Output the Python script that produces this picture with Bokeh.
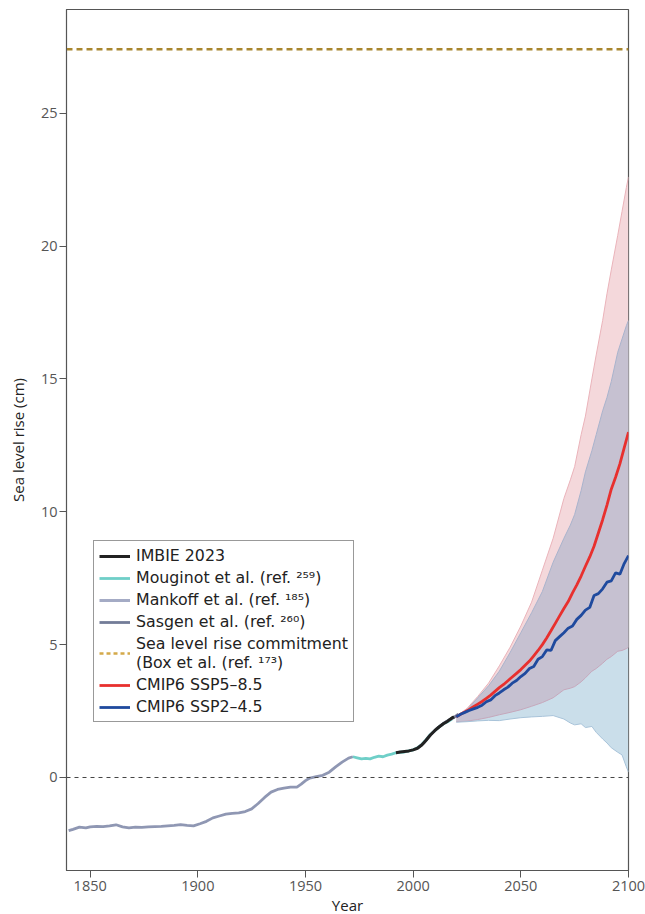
import numpy as np
from bokeh.plotting import figure
from bokeh.models import Legend, LegendItem, Range1d, Span, FixedTicker
from bokeh.embed import file_html
from bokeh.resources import INLINE

# ---------------- data ----------------
mankoff_year = [1840, 1842, 1845, 1848, 1850, 1853, 1856, 1859, 1862, 1865, 1868, 1871, 1874,
                1877, 1880, 1883, 1886, 1889, 1892, 1895, 1898, 1901, 1904, 1907, 1910, 1913,
                1916, 1919, 1922, 1925, 1928, 1931, 1934, 1937, 1940, 1943, 1946, 1948, 1950,
                1952, 1955, 1958, 1961, 1964, 1967, 1970, 1972]
mankoff_slr = [-2.00, -1.95, -1.87, -1.90, -1.86, -1.84, -1.85, -1.82, -1.78, -1.86, -1.90, -1.87,
               -1.88, -1.86, -1.85, -1.84, -1.82, -1.80, -1.77, -1.80, -1.82, -1.74, -1.65, -1.52,
               -1.45, -1.38, -1.35, -1.33, -1.28, -1.18, -0.98, -0.75, -0.55, -0.45, -0.40, -0.36,
               -0.36, -0.25, -0.12, -0.02, 0.03, 0.08, 0.20, 0.40, 0.58, 0.73, 0.78]

mouginot_year = [1972, 1974, 1976, 1978, 1980, 1982, 1984, 1986, 1988, 1990, 1992, 1994, 1996,
                 1998, 2000, 2002, 2004, 2006, 2008, 2010, 2012, 2014, 2016, 2018]
mouginot_slr = [0.78, 0.74, 0.70, 0.72, 0.70, 0.76, 0.80, 0.78, 0.84, 0.88, 0.93, 0.95, 0.96,
                1.00, 1.04, 1.12, 1.24, 1.42, 1.62, 1.76, 1.90, 2.02, 2.10, 2.20]

sasgen_year = [2002, 2005, 2008, 2011, 2014, 2017, 2019, 2021]
sasgen_slr = [1.10, 1.30, 1.60, 1.84, 2.03, 2.18, 2.26, 2.38]

imbie_year = [1992, 1994, 1996, 1998, 2000, 2002, 2004, 2006, 2008, 2010, 2012, 2014, 2016, 2018, 2019]
imbie_slr = [0.93, 0.96, 0.98, 1.00, 1.04, 1.10, 1.22, 1.40, 1.60, 1.76, 1.90, 2.02, 2.12, 2.24, 2.28]

commitment = 27.4

proj_year = [2020, 2022, 2024, 2026, 2028, 2030, 2032, 2034, 2036, 2038, 2040, 2042, 2044, 2046,
             2048, 2050, 2052, 2054, 2056, 2058, 2060, 2062, 2064, 2066, 2068, 2070, 2072, 2074,
             2076, 2078, 2080, 2082, 2084, 2086, 2088, 2090, 2092, 2094, 2096, 2098, 2100]
ssp585 = [2.28, 2.38, 2.47, 2.56, 2.66, 2.76, 2.86, 2.98, 3.10, 3.24, 3.38, 3.50, 3.64, 3.78,
          3.92, 4.06, 4.22, 4.38, 4.58, 4.78, 5.00, 5.25, 5.52, 5.80, 6.08, 6.36, 6.62, 6.95,
          7.25, 7.58, 7.95, 8.30, 8.70, 9.20, 9.70, 10.25, 10.85, 11.30, 11.80, 12.40, 13.00]
ssp245 = [2.28, 2.38, 2.45, 2.52, 2.58, 2.64, 2.72, 2.85, 2.92, 3.08, 3.18, 3.30, 3.40, 3.55,
          3.65, 3.80, 3.92, 4.10, 4.18, 4.45, 4.55, 4.80, 4.78, 5.15, 5.30, 5.45, 5.62, 5.70,
          5.95, 6.10, 6.30, 6.40, 6.85, 6.92, 7.10, 7.35, 7.40, 7.70, 7.65, 8.05, 8.35]

band_year = [2020, 2025, 2030, 2035, 2040, 2045, 2050, 2055, 2060, 2065, 2070, 2073, 2075, 2078,
             2080, 2083, 2085, 2088, 2090, 2092, 2095, 2097, 2099, 2100]
ssp585_hi = [2.30, 2.60, 3.05, 3.55, 4.20, 4.90, 5.70, 6.60, 7.80, 9.00, 10.50, 11.20, 11.70, 12.90,
             13.60, 15.00, 15.90, 17.20, 18.20, 19.10, 20.40, 21.30, 22.20, 22.60]
ssp585_lo = [2.10, 2.12, 2.18, 2.26, 2.36, 2.45, 2.55, 2.68, 2.82, 3.00, 3.30, 3.36, 3.42, 3.60,
             3.75, 4.00, 4.10, 4.30, 4.45, 4.55, 4.75, 4.78, 4.85, 4.90]
ssp245_hi = [2.25, 2.55, 3.00, 3.45, 4.00, 4.70, 5.45, 6.20, 7.00, 8.10, 9.00, 9.50, 9.90, 10.80,
             11.50, 12.30, 12.90, 13.80, 14.30, 14.90, 16.00, 16.50, 17.00, 17.20]
ssp245_lo = [2.08, 2.10, 2.13, 2.15, 2.14, 2.20, 2.25, 2.28, 2.30, 2.33, 2.20, 2.05, 1.98, 2.02,
             1.88, 1.92, 1.70, 1.45, 1.30, 1.12, 0.95, 0.85, 0.40, 0.20]

x_ticks = [1850, 1900, 1950, 2000, 2050, 2100]
y_ticks = [0, 5, 10, 15, 20, 25]

# ---------------- figure ----------------
FONT = "Open Sans"
LFONT = "DejaVu Sans"
p = figure(width=645, height=910, frame_width=562, frame_height=861,
           output_backend="svg", toolbar_location=None,
           x_range=Range1d(1839, 2100), y_range=Range1d(-3.5, 28.9),
           min_border_left=66, min_border_right=17, min_border_top=9, min_border_bottom=40)
p.grid.visible = False
p.outline_line_color = "#555555"
p.outline_line_width = 1.2
p.background_fill_color = "white"
p.border_fill_color = "white"

for ax in (p.xaxis[0], p.yaxis[0]):
    ax.axis_line_color = "#555555"
    ax.major_tick_line_color = "#555555"
    ax.major_tick_out = 7
    ax.major_tick_in = 0
    ax.minor_tick_out = 0
    ax.minor_tick_in = 0
    ax.major_label_text_font = FONT
    ax.major_label_text_font_size = "14.5px"
    ax.major_label_text_color = "#555555"
    ax.axis_label_text_font = FONT
    ax.axis_label_text_font_size = "15px"
    ax.axis_label_text_font_style = "normal"
    ax.axis_label_text_color = "#222222"
p.xaxis.ticker = FixedTicker(ticks=x_ticks)
p.yaxis.ticker = FixedTicker(ticks=y_ticks)
p.xaxis.axis_label = "Year"
p.yaxis.axis_label = "Sea level rise (cm)"
p.xaxis.major_label_standoff = 3
p.yaxis.major_label_standoff = 2
p.xaxis.axis_label_standoff = 1
p.yaxis.axis_label_standoff = 10

# zero line
p.add_layout(Span(location=0, dimension="width", line_color="#444444",
                  line_width=1, line_dash="4 4"))

# ---------------- bands ----------------
by = np.array(band_year, dtype=float)
p.varea(x=by, y1=np.array(ssp245_lo), y2=np.array(ssp245_hi), fill_color="#cadeea", fill_alpha=1)
p.varea(x=by, y1=np.array(ssp585_lo), y2=np.array(ssp585_hi), fill_color="#f4d8db", fill_alpha=1)
ov_lo = np.maximum(ssp585_lo, ssp245_lo)
ov_hi = np.minimum(ssp585_hi, ssp245_hi)
p.varea(x=by, y1=ov_lo, y2=ov_hi, fill_color="#c6c1d1", fill_alpha=1)
p.line(by, ssp585_hi, line_color="#eab3ba", line_width=1)
p.line(by, ssp245_hi, line_color="#a9b3cc", line_width=1)
p.line(by, ssp585_lo, line_color="#c4a8bc", line_width=1)
p.line(by, ssp245_lo, line_color="#a8c3d9", line_width=1)

# ---------------- lines ----------------
r_mank = p.line(mankoff_year, mankoff_slr, line_color="#8f97b3", line_width=2.8)
r_moug = p.line(mouginot_year, mouginot_slr, line_color="#6fcfc8", line_width=2.8)
r_sasg = p.line(sasgen_year, sasgen_slr, line_color="#737c98", line_width=2.8)
r_imb = p.line(imbie_year, imbie_slr, line_color="#222222", line_width=3)
r_585 = p.line(proj_year, ssp585, line_color="#e8302e", line_width=2.8)
r_245 = p.line(proj_year, ssp245, line_color="#1f4a9e", line_width=2.8)
r_com = p.line([1839, 2100], [commitment, commitment], line_color="#a8862e",
               line_width=2.5, line_dash="6 4")

# legend-only swatches (colours as shown in legend)
r_mank_leg = p.line([1839], [0], line_color="#a4abc5", line_width=3, visible=False)
r_com_leg = p.line([1839], [0], line_color="#d4a94a", line_width=2.5, line_dash="4 3", visible=False)

items = [
    LegendItem(label="IMBIE 2023", renderers=[r_imb]),
    LegendItem(label="Mouginot et al. (ref. \u00b2\u2075\u2079)", renderers=[r_moug]),
    LegendItem(label="Mankoff et al. (ref. \u00b9\u2078\u2075)", renderers=[r_mank_leg]),
    LegendItem(label="Sasgen et al. (ref. \u00b2\u2076\u2070)", renderers=[r_sasg]),
    LegendItem(label="Sea level rise commitment\n(Box et al. (ref. \u00b9\u2077\u00b3)", renderers=[r_com_leg]),
    LegendItem(label="CMIP6 SSP5\u20138.5", renderers=[r_585]),
    LegendItem(label="CMIP6 SSP2\u20134.5", renderers=[r_245]),
]
legend = Legend(items=items, location=(27, 148), margin=0)
legend.label_text_font = LFONT
legend.label_text_font_size = "15.8px"
legend.label_text_color = "#222222"
legend.label_text_line_height = 1.4
legend.glyph_width = 31
legend.glyph_height = 18
legend.label_height = 18
legend.label_standoff = 6
legend.spacing = 3
legend.padding = 5
legend.border_line_color = "#333333"
legend.border_line_width = 1
legend.background_fill_color = "white"
legend.background_fill_alpha = 1
p.add_layout(legend)

open("out.html", "w").write(file_html(p, INLINE))
